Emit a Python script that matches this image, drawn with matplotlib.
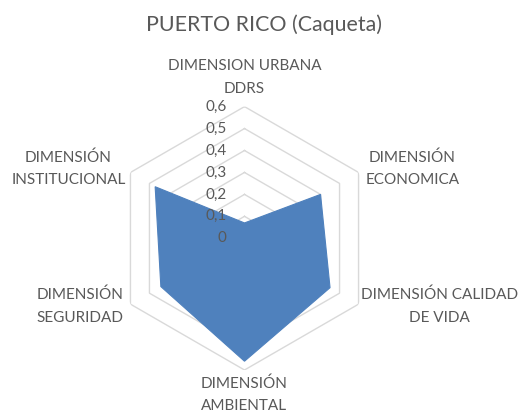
import numpy as np
import matplotlib.pyplot as plt

TITLE = "PUERTO RICO (Caqueta)"
CATEGORIES = [
    "DIMENSION URBANA\nDDRS",
    "DIMENSIÓN\nECONOMICA",
    "DIMENSIÓN CALIDAD\nDE VIDA",
    "DIMENSIÓN\nAMBIENTAL",
    "DIMENSIÓN\nSEGURIDAD",
    "DIMENSIÓN\nINSTITUCIONAL",
]
VALUES = [0.07, 0.40, 0.45, 0.56, 0.44, 0.47]
R_TICKS = [0.0, 0.1, 0.2, 0.3, 0.4, 0.5, 0.6]
R_TICK_LABELS = ["0", "0,1", "0,2", "0,3", "0,4", "0,5", "0,6"]

FILL_COLOR = "#4F81BD"
GRID_COLOR = "#D9D9D9"
TEXT_COLOR = "#595959"
FONT = ["Lato", "DejaVu Sans"]

W, H = 521, 415
CX, CY, RPX = 244.5, 238.3, 131.7


def main() -> None:
    plt.rcParams["font.family"] = FONT
    fig = plt.figure(figsize=(W / 100, H / 100), dpi=100)
    rect = [(CX - RPX) / W, (H - CY - RPX) / H, 2 * RPX / W, 2 * RPX / H]
    ax = fig.add_axes(rect, projection="polar")
    ax.set_theta_zero_location("N")
    ax.set_theta_direction(-1)
    ax.set_ylim(0, R_TICKS[-1])
    ax.grid(False)
    ax.spines["polar"].set_visible(False)
    ax.set_xticks([])
    ax.set_yticks([])
    ax.patch.set_alpha(0)

    n = len(CATEGORIES)
    theta = np.arange(n) * 2 * np.pi / n
    theta_closed = np.append(theta, theta[0])

    for r in R_TICKS[1:]:
        ax.plot(theta_closed, [r] * (n + 1), color=GRID_COLOR, lw=1.0, zorder=1)

    vals = VALUES + VALUES[:1]
    ax.fill(theta_closed, vals, color=FILL_COLOR, lw=0.8, zorder=2)

    for r, lab in zip(R_TICKS, R_TICK_LABELS):
        ax.annotate(lab, xy=(0, r), xytext=(-18, 0), textcoords="offset pixels",
                    ha="right", va="center", fontsize=11, color=TEXT_COLOR, zorder=3)

    # category labels, offset (in pixels) from the outer ring vertices
    offsets = [(0, 29), (54, 4), (81, -2), (0, -25), (-50, -2), (-62, 4)]
    for t, lab, off in zip(theta, CATEGORIES, offsets):
        ax.annotate(lab, xy=(t, R_TICKS[-1]), xytext=off, textcoords="offset pixels",
                    ha="center", va="center", multialignment="center", fontsize=11,
                    color=TEXT_COLOR, linespacing=1.75, annotation_clip=False)

    fig.text(264 / W, 1 - 25 / H, TITLE, ha="center", va="center",
             fontsize=15.4, color=TEXT_COLOR)

    fig.savefig("out.png", dpi=100)
    plt.close(fig)


if __name__ == "__main__":
    main()
